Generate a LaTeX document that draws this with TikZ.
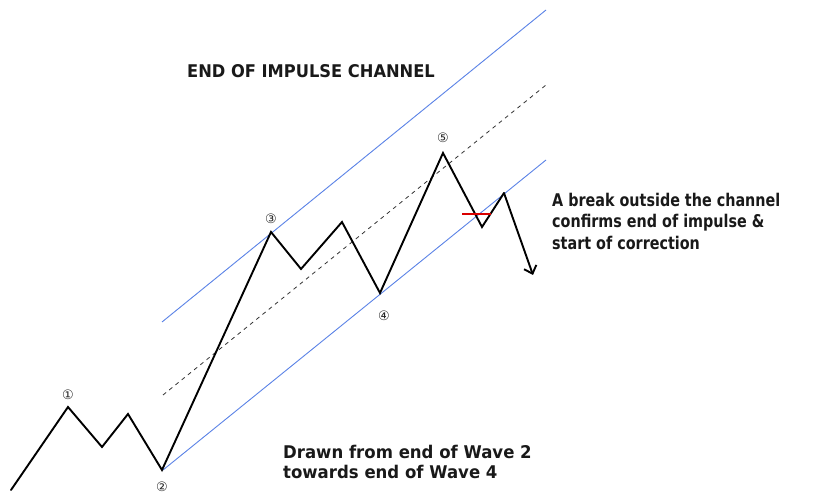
\documentclass[tikz,border=0pt]{standalone}
\usepackage{fontspec}
\setmainfont{DejaVu Sans}
\newfontfamily\titlefont[FakeStretch=0.93]{DejaVu Sans}
\newfontfamily\brkfont[FakeStretch=0.82]{DejaVu Sans}
\newfontfamily\drawnfont[FakeStretch=0.945]{DejaVu Sans}
\usetikzlibrary{arrows.meta}
\tikzset{
  wave/.style={line width=1.9pt, line join=miter, line cap=round},
  chan/.style={draw={rgb,255:red,90;green,130;blue,230}, line width=0.9pt},
  mid/.style={draw=black!80, line width=0.8pt, dash pattern=on 4pt off 4pt},
  num/.style={font=\fontsize{13}{13}\selectfont, inner sep=0pt, text=black!85},
  lbl/.style={align=left, inner sep=0pt, text=black!90},
}
\begin{document}
\begin{tikzpicture}[x=1pt, y=-1pt]
\useasboundingbox (0,0) rectangle (823,497);
% channel lines
\coordinate (u1) at (162,322); \coordinate (u2) at (546,10);
\coordinate (l1) at (163,470); \coordinate (l2) at (546,160);
\coordinate (m1) at (163,395); \coordinate (m2) at (546,85);
\draw[chan] (u1) -- (u2);
\draw[chan] (l1) -- (l2);
\draw[mid] (m1) -- (m2);
% wave points
\coordinate (s) at (11,490);
\coordinate (w1) at (68,407);
\coordinate (a1) at (102,447);
\coordinate (b1) at (128,414);
\coordinate (w2) at (162,470);
\coordinate (w3) at (271,232);
\coordinate (a3) at (301,269);
\coordinate (b3) at (342,222);
\coordinate (w4) at (380,293);
\coordinate (w5) at (443,153);
\coordinate (a5) at (482,227);
\coordinate (b5) at (504,193);
\coordinate (e) at (533,275);
\draw[wave] (s) -- (w1) -- (a1) -- (b1) -- (w2) -- (w3) -- (a3) -- (b3) -- (w4) -- (w5) -- (a5) -- (b5);
\draw[wave, -{Straight Barb[length=7pt,width=13pt,line width=1.9pt]}] (b5) -- (e);
% red break mark
\coordinate (r1) at (462,214); \coordinate (r2) at (491,214);
\draw[red!85!black, line width=1.2pt] (r1) -- (r2);
% numbers
\node[num] (n1) at (68,395) {①};
\node[num] (n2) at (162,487) {②};
\node[num] (n3) at (271,219) {③};
\node[num] (n4) at (384,316) {④};
\node[num] (n5) at (443,138) {⑤};
% labels
\node[lbl, font=\titlefont\bfseries\fontsize{17.5}{21}\selectfont] (title) at (311,71) {END OF IMPULSE CHANNEL};
\node[lbl, font=\brkfont\bfseries\fontsize{17.5}{21.5}\selectfont, anchor=west] (brk) at (552,221) {A break outside the channel\\confirms end of impulse \&\\start of correction};
\node[lbl, font=\drawnfont\bfseries\fontsize{17.5}{20}\selectfont, anchor=west] (drawn) at (283,462) {Drawn from end of Wave 2\\towards end of Wave 4};
\end{tikzpicture}
\end{document}
